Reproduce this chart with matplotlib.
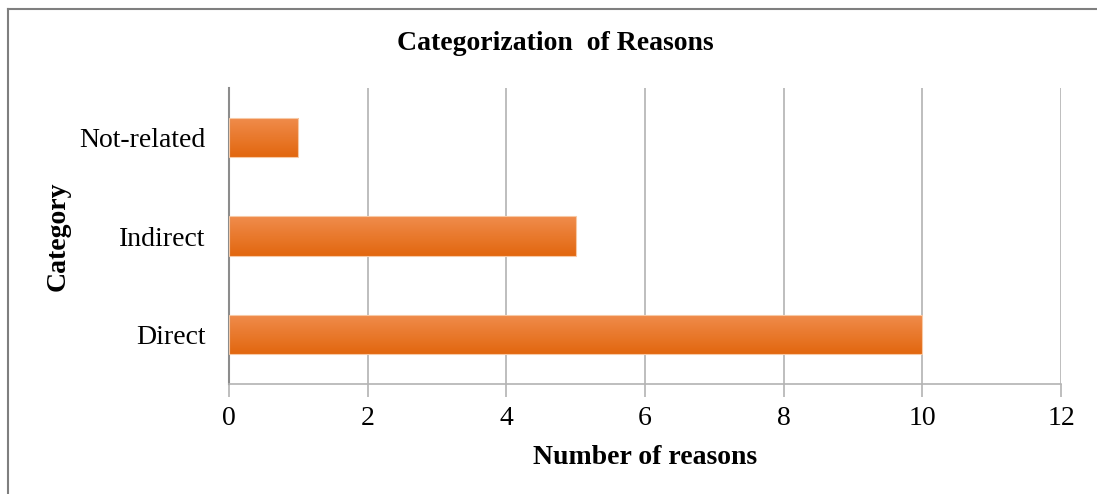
import numpy as np
import matplotlib
matplotlib.use("Agg")
import matplotlib.pyplot as plt
from matplotlib.colors import LinearSegmentedColormap
from matplotlib.lines import Line2D

# data
categories = ["Direct", "Indirect", "Not-related"]
counts = [10, 5, 1]
x_ticks = [0, 2, 4, 6, 8, 10, 12]

plt.rcParams["font.family"] = ["Liberation Serif", "DejaVu Serif"]

fig = plt.figure(figsize=(10.97, 4.94), dpi=100)
ax = fig.add_axes([229 / 1097, 1 - 384 / 494, (1061 - 229) / 1097, (384 - 88) / 494])

grid_col = "#b3b3b3"
ypos = np.arange(len(categories))
bars = ax.barh(ypos, counts, height=0.4, color="none", edgecolor="#f7c9a5", linewidth=0.8, zorder=3)

# orange vertical gradient like the Excel fill
cmap = LinearSegmentedColormap.from_list("org", ["#e2670f", "#f08c4c"])
grad = np.linspace(0, 1, 64).reshape(-1, 1)
for b in bars:
    x0, y0 = b.get_x(), b.get_y()
    im = ax.imshow(grad, cmap=cmap, aspect="auto", origin="lower",
                   extent=[x0, x0 + b.get_width(), y0, y0 + b.get_height()], zorder=2)
    im.set_clip_path(b)

ax.set_xlim(0, 12)
ax.set_ylim(-0.5, len(categories) - 0.5)
ax.set_xticks(x_ticks)
ax.set_xticklabels([str(t) for t in x_ticks])
ax.set_yticks(ypos)
ax.set_yticklabels(categories)
ax.xaxis.grid(True, color=grid_col, linewidth=1.2, zorder=0)
ax.set_axisbelow(True)

for s in ["top", "right"]:
    ax.spines[s].set_visible(False)
ax.spines["left"].set_color("#8c8c8c")
ax.spines["left"].set_linewidth(1.5)
ax.spines["bottom"].set_color(grid_col)
ax.spines["bottom"].set_linewidth(1.2)
ax.tick_params(axis="x", length=9, width=1.2, color=grid_col, labelsize=20, pad=7)
ax.tick_params(axis="y", length=0, labelsize=20, pad=17)

ax.set_xlabel("Number of reasons", fontsize=20, fontweight="bold", labelpad=10)
ax.set_ylabel("Category", fontsize=20, fontweight="bold", labelpad=6)
fig.text(555 / 1097, 1 - 44 / 494, "Categorization  of Reasons", fontsize=20,
         fontweight="bold", ha="center", va="center")

# chart border (top and left visible in the crop)
fig.add_artist(Line2D([8 / 1097, 1.0], [1 - 9 / 494, 1 - 9 / 494], color="#7f7f7f", linewidth=1.5))
fig.add_artist(Line2D([8 / 1097, 8 / 1097], [0, 1 - 9 / 494], color="#7f7f7f", linewidth=1.5))

fig.savefig("out.png", dpi=100)
